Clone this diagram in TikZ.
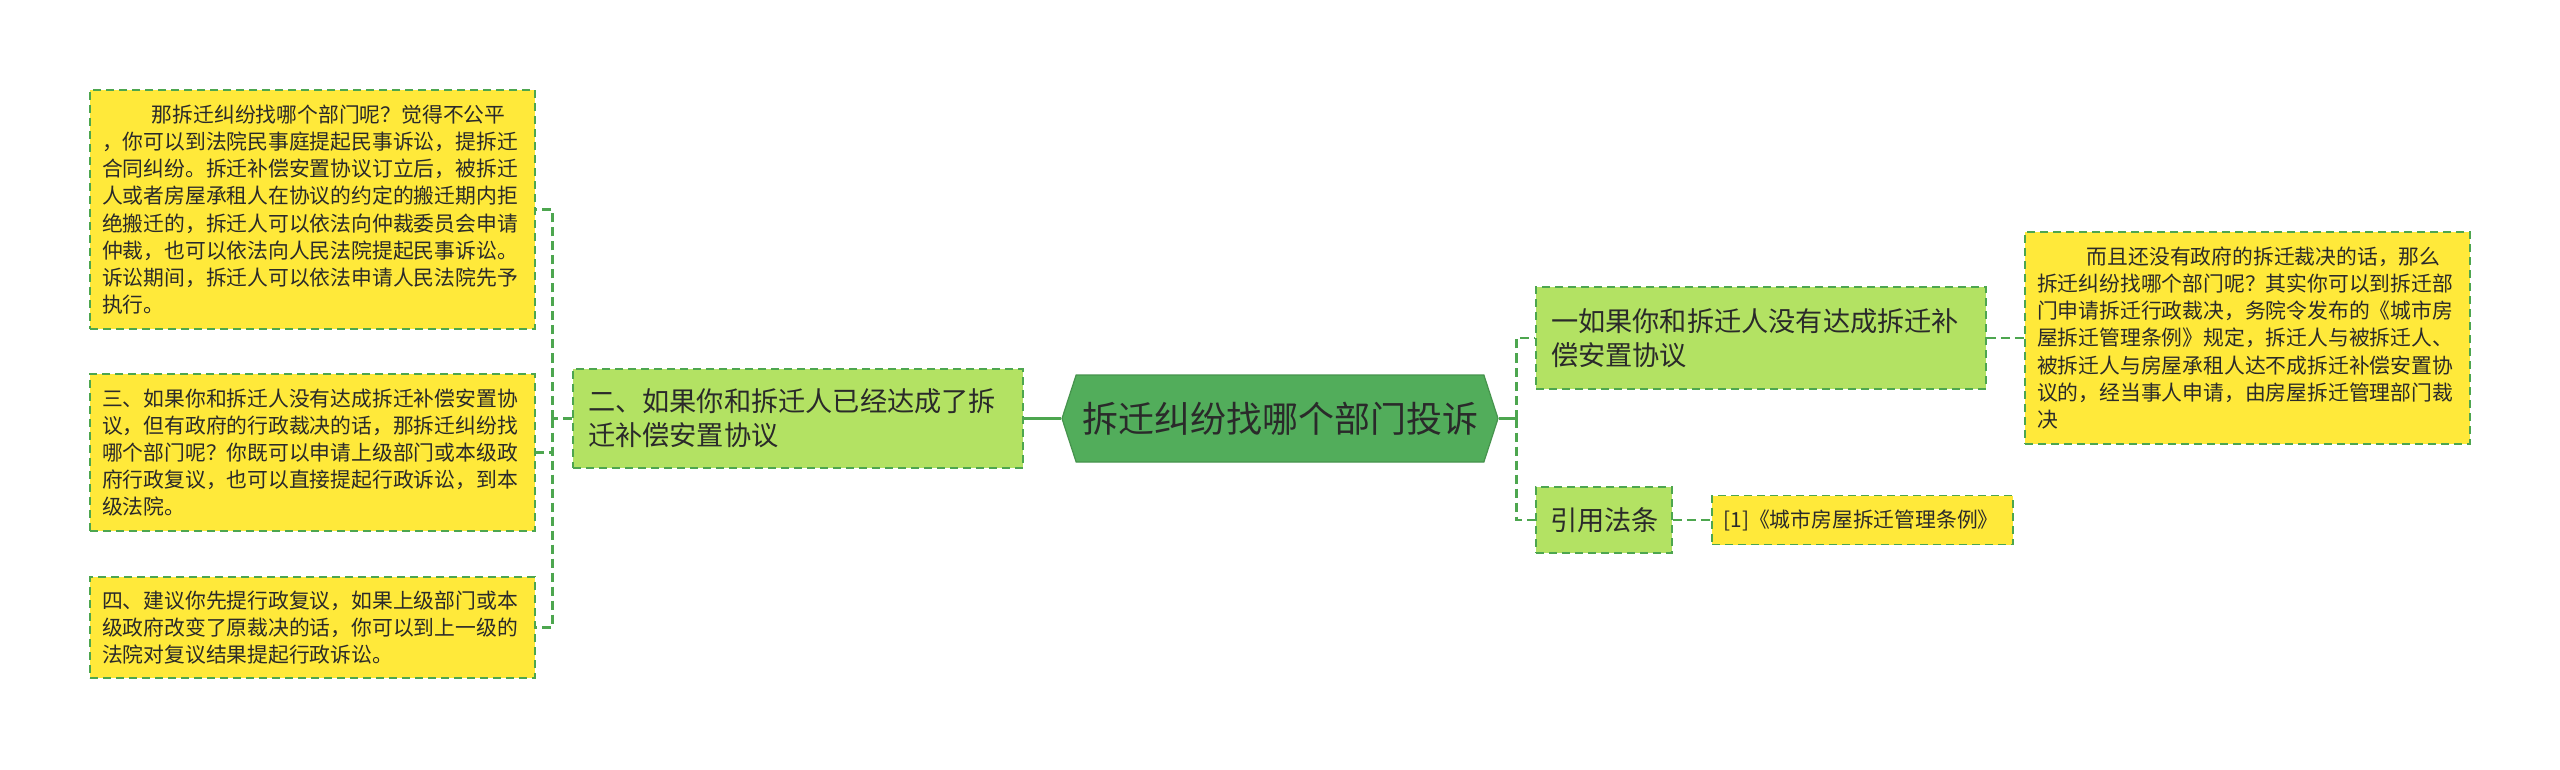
\documentclass[tikz,border=0pt]{standalone}
\usepackage{fontspec}
\setmainfont{Noto Sans CJK SC}
\usetikzlibrary{shapes.symbols}

\definecolor{yfill}{HTML}{FFE93A}
\definecolor{gfill}{HTML}{B3E263}
\definecolor{hexfill}{HTML}{52AD5B}
\definecolor{lnk}{HTML}{4DA64F}
\definecolor{txt}{HTML}{2A2A2A}

\tikzset{
  note/.style 2 args={draw=lnk, dash pattern=on 4pt off 2.5pt, line width=0.9pt,
    fill=yfill, text=txt, align=left, inner xsep=6pt, inner ysep=0pt,
    text width=#1, minimum height=#2, font=\fontsize{10.4}{13.6}\selectfont},
  topic/.style 2 args={draw=lnk, dash pattern=on 4pt off 2.5pt, line width=0.9pt,
    fill=gfill, text=txt, align=left, inner xsep=7.5pt, inner ysep=0pt,
    text width=#1, minimum height=#2, font=\fontsize{13.6}{17}\selectfont},
  link/.style={draw=lnk, line width=1.5pt},
  dlink/.style={draw=lnk, line width=1.4pt, dash pattern=on 4.5pt off 2.5pt}
}

\begin{document}
\begin{tikzpicture}[x=0.5pt,y=-0.5pt]
        \fill[white] (0,0) rectangle (2560,770);
        \useasboundingbox (0,0) rectangle (2560,770);
        \draw (1280,418.5) node[signal, signal to=west and east, signal pointer angle=144,
              fill=hexfill, draw=hexfill!85!black, line width=0.6pt, text=txt,
              minimum width=218pt, minimum height=43.5pt, inner sep=0pt,
              font=\fontsize{18}{20}\selectfont] (hex) {拆迁纠纷找哪个部门投诉};
        \draw (798,418.5) node[topic={210pt}{49.5pt}] (b2)
              {二、如果你和拆迁人已经达成了拆\\迁补偿安置协议};
        \draw (312.5,209.5) node[note={210.5pt}{119.5pt}] (c1)
              {\hspace*{2.4em}那拆迁纠纷找哪个部门呢？觉得不公平\\
               ，你可以到法院民事庭提起民事诉讼，提拆迁\\
               合同纠纷。拆迁补偿安置协议订立后，被拆迁\\
               人或者房屋承租人在协议的约定的搬迁期内拒\\
               绝搬迁的，拆迁人可以依法向仲裁委员会申请\\
               仲裁，也可以依法向人民法院提起民事诉讼。\\
               诉讼期间，拆迁人可以依法申请人民法院先予\\
               执行。};
        \draw (312.5,452.5) node[note={210.5pt}{78.5pt}] (c3)
              {三、如果你和拆迁人没有达成拆迁补偿安置协\\
               议，但有政府的行政裁决的话，那拆迁纠纷找\\
               哪个部门呢？你既可以申请上级部门或本级政\\
               府行政复议，也可以直接提起行政诉讼，到本\\
               级法院。};
        \draw (312.5,627.5) node[note={210.5pt}{50.5pt}] (c4)
              {四、建议你先提行政复议，如果上级部门或本\\
               级政府改变了原裁决的话，你可以到上一级的\\
               法院对复议结果提起行政诉讼。};
        \draw (1761,338) node[topic={210pt}{51pt}] (b1)
              {一如果你和拆迁人没有达成拆迁补\\偿安置协议};
        \draw (2247.5,338) node[note={210.5pt}{106pt}] (r1)
              {\hspace*{2.4em}而且还没有政府的拆迁裁决的话，那么\\
               拆迁纠纷找哪个部门呢？其实你可以到拆迁部\\
               门申请拆迁行政裁决，务院令发布的《城市房\\
               屋拆迁管理条例》规定，拆迁人与被拆迁人、\\
               被拆迁人与房屋承租人达不成拆迁补偿安置协\\
               议的，经当事人申请，由房屋拆迁管理部门裁\\
               决};
        \draw (1604,520) node[topic={54pt}{33pt}, align=center, inner xsep=7pt] (law) {引用法条};
        \draw (1862.5,520) node[note={139pt}{24.5pt}, inner xsep=5.75pt] (ref)
              {[1]《城市房屋拆迁管理条例》};
        \draw[link] (hex.west) -- (b2.east);
        \draw[link] (hex.east) -- ++(18,0) coordinate (rj);
        \draw[dlink] (b2.west) -- ++(-20,0) coordinate (lj);
        \draw[dlink] (lj) |- (c1.east)
              (lj) |- (c3.east)
              (lj) |- (c4.east);
        \draw[dlink] (rj) |- (b1.west)
              (rj) |- (law.west);
        \draw[dlink] (b1.east) -- (r1.west);
        \draw[dlink] (law.east) -- (ref.west);
    \end{tikzpicture}
\end{document}
